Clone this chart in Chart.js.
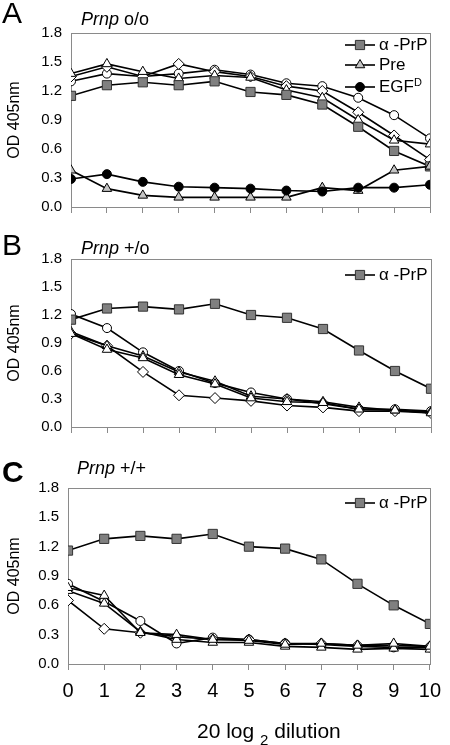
<!DOCTYPE html>
<html><head><meta charset="utf-8">
<script src="https://cdn.jsdelivr.net/npm/chart.js@4"></script>
<style>
body{margin:0;width:450px;height:745px;background:#fff;position:relative;overflow:hidden;font-family:"Liberation Sans",Arial,sans-serif;}
canvas{position:absolute;left:0;}
.t{position:absolute;white-space:nowrap;line-height:1;color:#000;}
sub,sup{line-height:0;}
</style></head><body>
<canvas id="ca" width="450" height="225" style="top:0px"></canvas>
<canvas id="cb" width="450" height="220" style="top:225px"></canvas>
<canvas id="cc" width="450" height="300" style="top:445px"></canvas>

<div class="t" style="left:2px;top:-2px;font-size:30px;">A</div>
<div class="t" style="left:2px;top:230px;font-size:30px;">B</div>
<div class="t" style="left:2px;top:457px;font-size:30px;font-weight:bold;">C</div>

<div class="t" style="left:81px;top:10px;font-size:18px;"><i>Prnp</i> o/o</div>
<div class="t" style="left:81px;top:239px;font-size:18px;"><i>Prnp</i> +/o</div>
<div class="t" style="left:77px;top:459px;font-size:18px;"><i>Prnp</i> +/+</div>

<div class="t" style="left:379px;top:36px;font-size:17px;">&alpha; -PrP</div>
<div class="t" style="left:379px;top:56px;font-size:17px;">Pre</div>
<div class="t" style="left:379px;top:78px;font-size:17px;">EGF<sup style="font-size:11px;vertical-align:6px;">D</sup></div>
<div class="t" style="left:379px;top:266px;font-size:17px;">&alpha; -PrP</div>
<div class="t" style="left:379px;top:494px;font-size:17px;">&alpha; -PrP</div>

<div class="t" style="left:197px;top:720px;font-size:21px;">20 log <span style="font-size:15px;position:relative;top:7px;">2</span> dilution</div>

<script>
// ---- data ----
const dilution = [0,1,2,3,4,5,6,7,8,9,10];
const xTickLabels = ['0','1','2','3','4','5','6','7','8','9','10'];
const yTickLabels = ['0.0','0.3','0.6','0.9','1.2','1.5','1.8'];

// Panel A  (Prnp o/o)
const aAlphaPrP = [1.15,1.26,1.29,1.26,1.30,1.19,1.16,1.06,0.83,0.58,0.42];
const aCircle   = [1.30,1.38,1.35,1.38,1.42,1.37,1.28,1.25,1.13,0.95,0.71];
const aDiamond  = [1.35,1.45,1.35,1.48,1.40,1.35,1.25,1.20,0.98,0.74,0.49];
const aTriangle = [1.38,1.48,1.40,1.33,1.36,1.34,1.21,1.13,0.90,0.69,0.65];
const aPre      = [0.38,0.19,0.12,0.10,0.10,0.10,0.10,0.20,0.17,0.38,0.42];
const aEGF      = [0.29,0.34,0.26,0.21,0.20,0.19,0.17,0.16,0.20,0.20,0.23];

// Panel B  (Prnp +/o)
const bAlphaPrP  = [1.15,1.27,1.29,1.26,1.32,1.20,1.17,1.05,0.82,0.60,0.41];
const bCircle    = [1.21,1.06,0.80,0.60,0.47,0.37,0.30,0.25,0.19,0.19,0.17];
const bDiamond   = [1.00,0.87,0.59,0.34,0.31,0.28,0.23,0.21,0.17,0.17,0.15];
const bTriangle1 = [1.00,0.83,0.74,0.56,0.46,0.31,0.27,0.26,0.19,0.18,0.15];
const bTriangle2 = [1.02,0.87,0.76,0.59,0.49,0.33,0.30,0.27,0.21,0.18,0.16];

// Panel C  (Prnp +/+)
const cAlphaPrP  = [1.16,1.28,1.31,1.28,1.33,1.20,1.18,1.07,0.82,0.60,0.41];
const cCircle    = [0.82,0.64,0.44,0.21,0.27,0.25,0.21,0.20,0.18,0.17,0.17];
const cDiamond   = [0.65,0.36,0.32,0.28,0.25,0.25,0.21,0.21,0.19,0.19,0.18];
const cTriangle1 = [0.78,0.70,0.32,0.30,0.25,0.24,0.20,0.21,0.19,0.21,0.18];
const cTriangle2 = [0.75,0.62,0.33,0.25,0.22,0.22,0.18,0.17,0.15,0.16,0.15];

// ---- styles ----
const ST = {
  square:   {pointStyle:'rect',     pointRadius:6.5, bg:'#808080', bd:'#333'},
  circle:   {pointStyle:'circle',   pointRadius:4.5, bg:'#ffffff', bd:'#000'},
  diamond:  {pointStyle:'rectRot',  pointRadius:5.5, bg:'#ffffff', bd:'#000'},
  triangle: {pointStyle:'triangle', pointRadius:5.5, bg:'#ffffff', bd:'#000'},
  triGray:  {pointStyle:'triangle', pointRadius:5.5, bg:'#c4c4c4', bd:'#000'},
  dot:      {pointStyle:'circle',   pointRadius:4.5, bg:'#000000', bd:'#000'}
};

function ds(values, style){
  const s = ST[style];
  return {
    data: dilution.map((x,i)=>({x:x, y:values[i]})),
    borderColor:'#000', borderWidth:1.6,
    pointStyle:s.pointStyle, pointRadius:s.pointRadius,
    pointBackgroundColor:s.bg, pointBorderColor:s.bd, pointBorderWidth:1,
    fill:false, tension:0
  };
}

function marker(ctx, style, x, y){
  const s = ST[style];
  const r = s.pointRadius;
  ctx.save();
  ctx.fillStyle = s.bg; ctx.strokeStyle = s.bd; ctx.lineWidth = 1;
  ctx.beginPath();
  if (s.pointStyle==='rect'){ const h=r*Math.SQRT1_2; ctx.rect(x-h,y-h,2*h,2*h); }
  else if (s.pointStyle==='circle'){ ctx.arc(x,y,r,0,Math.PI*2); }
  else if (s.pointStyle==='triangle'){
    for(let k=0;k<3;k++){ const a=k*2*Math.PI/3; const px=x+Math.sin(a)*r, py=y-Math.cos(a)*r; k?ctx.lineTo(px,py):ctx.moveTo(px,py);} ctx.closePath();
  }
  ctx.fill(); ctx.stroke(); ctx.restore();
}

const framePlugin = {
  id:'frame',
  beforeDatasetsDraw(chart){
    const a = chart.chartArea, ctx = chart.ctx;
    ctx.save(); ctx.strokeStyle='#8a8a8a'; ctx.lineWidth=1;
    ctx.strokeRect(Math.round(a.left)+0.5, Math.round(a.top)+0.5, Math.round(a.right-a.left), Math.round(a.bottom-a.top));
    ctx.restore();
  },
  afterDraw(chart){
    const items = chart.options.plugins.frame && chart.options.plugins.frame.legend || [];
    const ctx = chart.ctx;
    items.forEach(it=>{
      ctx.save(); ctx.strokeStyle='#000'; ctx.lineWidth=1.6;
      ctx.beginPath(); ctx.moveTo(345,it.y); ctx.lineTo(375,it.y); ctx.stroke(); ctx.restore();
      marker(ctx, it.style, 360, it.y);
    });
  }
};

function makeChart(id, datasets, cfg){
  return new Chart(document.getElementById(id), {
    type:'line',
    data:{datasets:datasets},
    plugins:[framePlugin],
    options:{
      responsive:false, animation:false, devicePixelRatio:1,
      layout:{padding:{top:cfg.top, right:cfg.right, bottom:cfg.bottom, left:0}},
      plugins:{legend:{display:false}, tooltip:{enabled:false}, frame:{legend:cfg.legend}},
      scales:{
        x:{
          type:'linear', min:0, max:10, offset:false,
          afterFit:s=>{ s.height = cfg.xh; },
          afterBuildTicks:s=>{ s.ticks = dilution.map(v=>({value:v})); },
          ticks:{display:cfg.xLabels, autoSkip:false, maxRotation:0, padding:9, color:'#000',
                 font:{family:'"Liberation Sans", Arial, sans-serif', size:20},
                 callback:(v,i)=>xTickLabels[i]},
          grid:{display:true, drawOnChartArea:false, drawTicks:true, tickLength:6, color:'#8a8a8a', lineWidth:1},
          border:{display:true, color:'#8a8a8a', width:1}
        },
        y:{
          min:0, max:1.8,
          afterFit:s=>{ s.width = cfg.yw; },
          afterBuildTicks:s=>{ s.ticks = yTickLabels.map(t=>({value:parseFloat(t)})); },
          ticks:{padding:9, color:'#000', font:{family:'"Liberation Sans", Arial, sans-serif', size:15},
                 callback:(v,i)=>yTickLabels[i]},
          grid:{display:false, drawTicks:false},
          border:{display:true, color:'#8a8a8a', width:1},
          title:{display:true, text:'OD 405nm', color:'#000', padding:{top:5, bottom:0},
                 font:{family:'"Liberation Sans", Arial, sans-serif', size:16}}
        }
      }
    }
  });
}

makeChart('ca', [
  ds(aEGF,'dot'), ds(aPre,'triGray'),
  ds(aAlphaPrP,'square'), ds(aTriangle,'triangle'), ds(aDiamond,'diamond'), ds(aCircle,'circle')
], {top:33, right:20, bottom:0, xh:13, yw:71, xLabels:false,
    legend:[{y:45,style:'square'},{y:65,style:'triGray'},{y:87,style:'dot'}]});

makeChart('cb', [
  ds(bAlphaPrP,'square'), ds(bTriangle1,'triangle'), ds(bTriangle2,'triangle'), ds(bDiamond,'diamond'), ds(bCircle,'circle')
], {top:34, right:19, bottom:3, xh:13, yw:71, xLabels:false,
    legend:[{y:50,style:'square'}]});

makeChart('cc', [
  ds(cAlphaPrP,'square'), ds(cTriangle1,'triangle'), ds(cTriangle2,'triangle'), ds(cDiamond,'diamond'), ds(cCircle,'circle')
], {top:43, right:19, bottom:41, xh:40, yw:68, xLabels:true,
    legend:[{y:58,style:'square'}]});
</script>
</body></html>
